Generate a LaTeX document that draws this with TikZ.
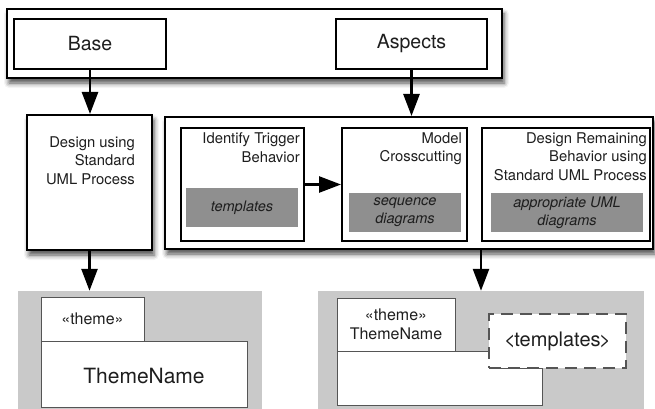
\documentclass[tikz,border=0pt]{standalone}
\usepackage{fontspec}
\setmainfont{TeX Gyre Heros}
\usetikzlibrary{arrows.meta,fit,shadows.blur}
\definecolor{panelgray}{HTML}{C9C9C9}
\definecolor{slotgray}{HTML}{8F8F8F}
\definecolor{edgegray}{HTML}{555555}
\definecolor{ink}{HTML}{1E1E1E}
\begin{document}
\begin{tikzpicture}[x=1pt,y=-1pt,
  frame/.style={draw=black, line width=2pt, fill=white, inner sep=0pt},
  shade/.style={blur shadow={shadow xshift=2pt, shadow yshift=-5pt,
      shadow blur radius=5pt, shadow opacity=70}},
  slot/.style={fill=slotgray, inner sep=0pt},
  slottext/.style={inner sep=0pt, text=ink, align=center,
      font=\fontsize{14.5}{18}\selectfont\itshape},
  steptext/.style={inner sep=0pt, align=right, anchor=north east, text=ink,
      font=\fontsize{14.8}{18.5}\selectfont},
  panel/.style={fill=panelgray, inner sep=0pt},
  uml/.style={draw=edgegray, line width=1pt, fill=white, inner sep=0pt},
  label/.style={inner sep=0pt, text=ink, align=center},
  arr/.style={line width=2.6pt, -{Triangle[length=22pt,width=16pt]}},
  toplabel/.style={label, font=\fontsize{19.5}{22}\selectfont}]
\useasboundingbox (0,0) rectangle (655,409);

% top band: base and aspects
\node[frame, shade, fit={(7,9) (502,78)}] (band) {};
\node[frame, fit={(14,19) (166,69)}] (base) {};
\node[toplabel] (baselbl) at (base.center) {Base};
\node[frame, fit={(336,19) (487,69)}] (aspects) {};
\node[toplabel] (aspectslbl) at (aspects.center) {Aspects};

% base path
\node[frame, shade, fit={(27,115) (152,250)}] (design) {};
\node[steptext] (designtxt) at (135,136.5) {Design using\\Standard\\UML Process};

% aspect path
\node[frame, shade, fit={(165,117) (653,249)}] (aspectbox) {};
\node[frame, fit={(181,128) (304,241)}] (identify) {};
\node[steptext] (identifytxt) at (300,132.5) {Identify Trigger\\Behavior};
\node[slot, fit={(186,188) (298,227)}] (tmplslot) {};
\node[slottext] (tmplslotlbl) at (tmplslot.center) {templates};

\node[frame, fit={(342,128) (467,241)}] (model) {};
\node[steptext] (modeltxt) at (462,132.5) {Model\\Crosscutting};
\node[slot, fit={(349,193) (461,232)}] (seqslot) {};
\node[slottext] (seqslotlbl) at (seqslot.center) {sequence\\diagrams};

\node[frame, fit={(482,128) (650,241)}] (remain) {};
\node[steptext] (remaintxt) at (647,132.5) {Design Remaining\\Behavior using\\Standard UML Process};
\node[slot, fit={(491,193) (643,232)}] (umlslot) {};
\node[slottext] (umlslotlbl) at (umlslot.center) {appropriate UML\\diagrams};

% resulting theme for the base
\node[panel, fit={(18,291) (262,409)}] (panelA) {};
\node[uml, fit={(41,341) (247,407)}] (bodyA) {};
\node[label, font=\fontsize{21}{24}\selectfont] (bodyAlbl) at ([yshift=-2pt]bodyA.center) {ThemeName};
\node[uml, fit={(41,297) (144,341)}] (tabA) {};
\node[label, font=\fontsize{16}{19}\selectfont] (tabAlbl) at (tabA.center) {«theme»};

% resulting theme for the aspects
\node[panel, fit={(318,291) (644,409)}] (panelB) {};
\path[fill=white, draw=edgegray, line width=1pt]
  (337,351) -- (489,351) -- (489,368) -- (542,368) -- (542,405) -- (337,405) -- cycle;
\node[uml, fit={(337,298) (455,351)}] (tabB) {};
\node[label, font=\fontsize{16}{19}\selectfont] (tabBlbl) at (tabB.center) {«theme»\\ThemeName};
\node[uml, dashed, dash pattern=on 12pt off 7pt, line width=1.4pt,
      fit={(489,314) (626,368)}] (tmplB) {};
\node[label, font=\fontsize{20}{22}\selectfont] (tmplBlbl) at (tmplB.center) {<\kern-1.5pt templates\kern-1.5pt >};

% flow
\draw[arr] (base.south) -- (base.south |- design.north);
\draw[arr] (aspects.south) -- (aspects.south |- aspectbox.north);
\draw[arr] (identify.east) -- (model.west);
\draw[arr] (design.south) -- (design.south |- panelA.north);
\draw[arr] (panelB.north |- aspectbox.south) -- (panelB.north);
\end{tikzpicture}
\end{document}
